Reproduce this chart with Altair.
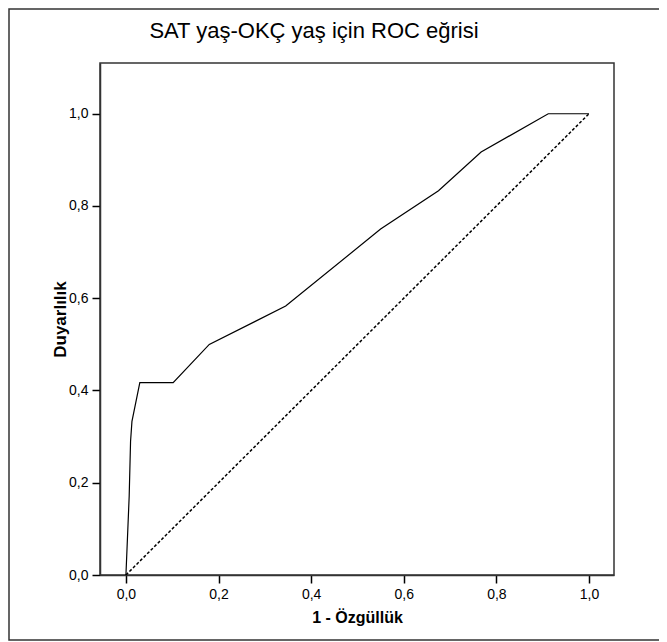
import altair as alt
import pandas as pd

# ROC curve points (1 - specificity, sensitivity)
fpr = [0.0, 0.007, 0.010, 0.013, 0.030, 0.102, 0.180, 0.345, 0.550, 0.675, 0.767, 0.912, 1.0]
tpr = [0.0, 0.17, 0.29, 0.333, 0.417, 0.417, 0.500, 0.583, 0.750, 0.833, 0.917, 1.0, 1.0]

ref_x = [0.0, 1.0]
ref_y = [0.0, 1.0]

ticks = [0.0, 0.2, 0.4, 0.6, 0.8, 1.0]

title_text = ["SAT yaş-OKÇ yaş için ROC eğrisi"]

roc = pd.DataFrame({"x": fpr, "y": tpr, "o": list(range(len(fpr)))})
ref = pd.DataFrame({"x": ref_x, "y": ref_y})

FONT = "Liberation Sans"
lab = "replace(format(datum.value, '.1f'), '.', ',')"

xs = alt.Scale(domain=[-0.056, 1.054], nice=False, zero=False)
ys = alt.Scale(domain=[0.0, 1.11], nice=False, zero=False)

xax = alt.Axis(values=ticks, labelExpr=lab, title="1 - Özgüllük")
yax = alt.Axis(values=ticks, labelExpr=lab, title="Duyarlılık", titleFontSize=17)

line = alt.Chart(roc).mark_line(color="black", strokeWidth=1.2).encode(
    x=alt.X("x:Q", scale=xs, axis=xax),
    y=alt.Y("y:Q", scale=ys, axis=yax),
    order="o:Q",
)

diag = alt.Chart(ref).mark_line(color="black", strokeWidth=1.5, strokeDash=[3, 2]).encode(
    x=alt.X("x:Q", scale=xs),
    y=alt.Y("y:Q", scale=ys),
)

frame = alt.Chart(alt.Data(values=[{"a": 1}])).mark_rect(
    fill=None, stroke="#333333", strokeWidth=1.5, clip=False
).encode(
    x=alt.value(-91), x2=alt.value(560),
    y=alt.value(-54), y2=alt.value(577),
)

title = alt.Chart(pd.DataFrame({"t": title_text})).mark_text(
    font=FONT, fontSize=22, color="black", align="center", baseline="alphabetic"
).encode(
    text="t:N", x=alt.value(214), y=alt.value(-25),
)

chart = alt.layer(frame, diag, line, title).properties(
    width=514,
    height=512,
    autosize=alt.AutoSizeParams(type="none"),
    padding={"left": 92, "top": 55, "right": 45, "bottom": 66},
).configure_view(
    stroke="#333333", strokeWidth=1.5
).configure_axis(
    grid=False,
    domainColor="#333333", domainWidth=1.5,
    tickColor="black", tickWidth=1.5, tickSize=8,
    labelFont=FONT, labelFontSize=14, labelColor="black", labelPadding=4,
    titleFont=FONT, titleFontSize=16, titleFontWeight="bold", titleColor="black",
).configure_axisX(titlePadding=8).configure_axisY(titlePadding=-1)

chart.save("out.html", embed_options={"renderer": "svg", "actions": False})
